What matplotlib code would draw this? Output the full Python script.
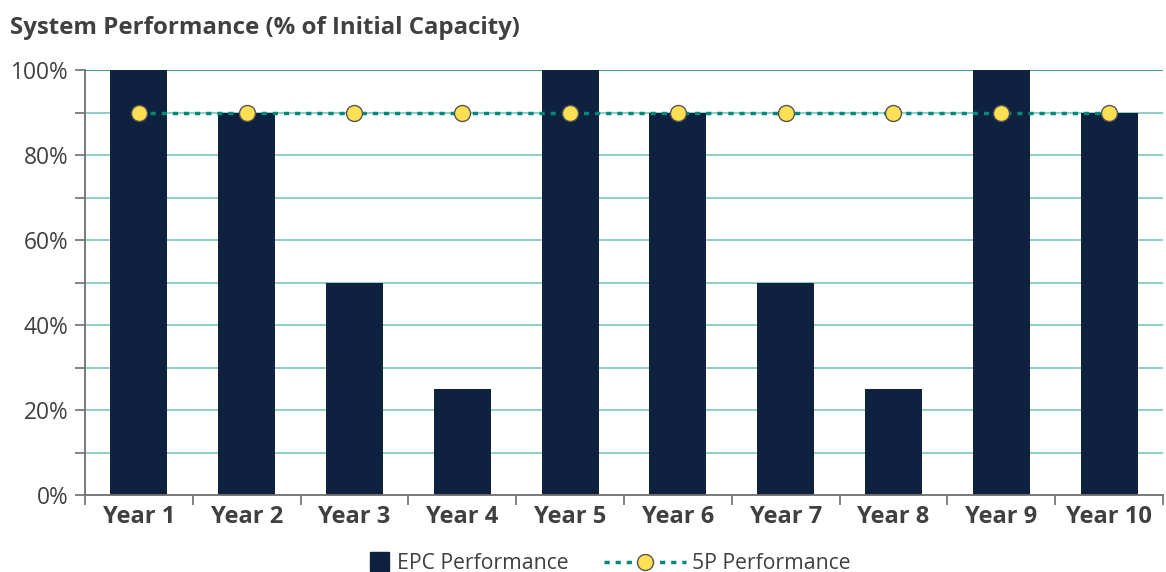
import os
import matplotlib
matplotlib.use("Agg")
import matplotlib.pyplot as plt
from matplotlib.ticker import MultipleLocator, FuncFormatter
from matplotlib.lines import Line2D
from matplotlib.patches import Patch, Rectangle
from matplotlib.legend_handler import HandlerPatch
from matplotlib.font_manager import FontProperties

plt.rcParams['font.family'] = ['Open Sans', 'DejaVu Sans']

years = ["Year 1", "Year 2", "Year 3", "Year 4", "Year 5",
         "Year 6", "Year 7", "Year 8", "Year 9", "Year 10"]
epc_performance = [100, 90, 50, 25, 100, 90, 50, 25, 100, 90]
fivep_performance = [90, 90, 90, 90, 90, 90, 90, 90, 90, 90]

font_dir = "/usr/share/fonts/truetype/open-sans"


def font(style, size):
    path = os.path.join(font_dir, f"OpenSans-{style}.ttf")
    if os.path.exists(path):
        return FontProperties(fname=path, size=size)
    return FontProperties(family="Open Sans",
                          weight="bold" if style == "Bold" else "normal", size=size)


navy = "#0E2240"
teal = "#00897B"
grid_teal = "#86CBC1"
text_grey = "#404040"
axis_grey = "#6E6E6E"
dot_style = (0, (1.5, 1.7))

fig = plt.figure(figsize=(11.66, 5.72), dpi=100)
ax = fig.add_axes([0.0729, 0.1346, 0.9245, 0.743])

x = list(range(len(years)))
ax.bar(x, epc_performance, width=0.53, color=navy, zorder=2)
ax.plot(x, fivep_performance, color=teal, linestyle=dot_style, linewidth=2.5,
        dash_capstyle='butt', marker='o', markersize=11.5, markerfacecolor="#FFE052",
        markeredgecolor="#555555", markeredgewidth=1.0, zorder=3)

ax.set_xlim(-0.5, len(years) - 0.5)
ax.set_ylim(0, 100)
ax.yaxis.set_major_locator(MultipleLocator(10))
ax.yaxis.set_major_formatter(FuncFormatter(lambda v, p: f"{int(v)}%" if int(round(v)) % 20 == 0 else ""))

for v in range(10, 101, 10):
    ax.axhline(v, color=("#2E9A8A" if v == 100 else grid_teal), linewidth=1.3, zorder=1)

ax.set_xticks(x)
ax.set_xticklabels(years, fontproperties=font("Bold", 17), color=text_grey)
ax.set_xticks([i + 0.5 for i in range(-1, len(years))], minor=True)
ax.tick_params(axis='x', which='major', length=0, pad=7.5)
ax.tick_params(axis='x', which='minor', length=7, width=1.2, color=axis_grey, direction='out')
ax.tick_params(axis='y', which='major', length=7, width=1.2, color=axis_grey,
               labelcolor=text_grey, pad=5)
for lbl in ax.get_yticklabels():
    lbl.set_fontproperties(font("Regular", 16.4))

for s in ["top", "right"]:
    ax.spines[s].set_visible(False)
for s in ["left", "bottom"]:
    ax.spines[s].set_color(axis_grey)
    ax.spines[s].set_linewidth(1.3)

fig.text(0.009, 0.951, "System Performance (% of Initial Capacity)",
         fontproperties=font("Bold", 17.3), color=text_grey, ha='left', va='center')


def square_patch(legend, orig_handle, xdescent, ydescent, width, height, fontsize):
    side = height * 1.25
    return Rectangle((width - side - 2, (height - side) / 2 - ydescent), side, side)


handles = [
    Patch(facecolor=navy, edgecolor=navy, label="EPC Performance"),
    Line2D([0], [0], color=teal, linestyle=dot_style, linewidth=2.5, dash_capstyle='butt',
           marker='o', markersize=11.5, markerfacecolor="#FFE052", markeredgecolor="#555555",
           markeredgewidth=1.0, label="5P Performance"),
]
leg = fig.legend(handles=handles, loc='center', bbox_to_anchor=(0.497, 0.015),
                 ncol=2, frameon=False, prop=font("Regular", 15.2), handlelength=3.9,
                 columnspacing=1.7, handletextpad=0.25,
                 handler_map={Patch: HandlerPatch(patch_func=square_patch)})
for t in leg.get_texts():
    t.set_color(text_grey)

fig.savefig("out.png", dpi=100)
